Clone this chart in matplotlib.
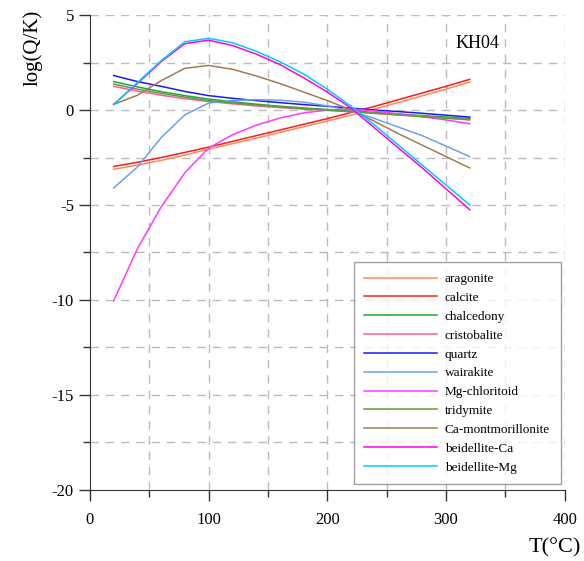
import matplotlib.pyplot as plt

plt.rcParams['font.family'] = ['Liberation Serif', 'DejaVu Serif']
plt.rcParams['axes.unicode_minus'] = False

# temperature steps (°C)
temp = [20, 40, 60, 80, 100, 120, 140, 160, 180, 200, 220, 240, 260, 280, 300, 320]

aragonite = [-3.12, -2.9, -2.65, -2.37, -2.06, -1.77, -1.48, -1.18, -0.88, -0.58, -0.27, 0.06, 0.4, 0.75, 1.1, 1.48]
calcite = [-2.97, -2.75, -2.5, -2.23, -1.95, -1.65, -1.35, -1.05, -0.75, -0.45, -0.13, 0.2, 0.55, 0.9, 1.25, 1.62]
chalcedony = [1.5, 1.22, 0.97, 0.76, 0.58, 0.44, 0.31, 0.2, 0.11, 0.03, -0.05, -0.13, -0.21, -0.29, -0.37, -0.45]
cristobalite = [1.25, 1.0, 0.78, 0.6, 0.45, 0.33, 0.22, 0.13, 0.05, -0.02, -0.09, -0.17, -0.25, -0.33, -0.42, -0.52]
quartz = [1.82, 1.5, 1.25, 0.98, 0.76, 0.62, 0.5, 0.39, 0.29, 0.2, 0.1, 0.0, -0.08, -0.17, -0.27, -0.37]
wairakite = [-4.1, -3.0, -1.45, -0.25, 0.37, 0.5, 0.55, 0.52, 0.42, 0.22, -0.05, -0.45, -0.9, -1.35, -1.9, -2.45]
mg_chloritoid = [-10.05, -7.3, -5.1, -3.3, -2.0, -1.3, -0.8, -0.42, -0.15, 0.0, 0.05, -0.05, -0.2, -0.35, -0.52, -0.72]
tridymite = [1.37, 1.1, 0.88, 0.68, 0.5, 0.38, 0.27, 0.17, 0.08, 0.0, -0.08, -0.17, -0.26, -0.35, -0.43, -0.5]
ca_mont = [0.3, 0.78, 1.55, 2.2, 2.35, 2.15, 1.8, 1.4, 0.95, 0.5, 0.0, -0.6, -1.25, -1.85, -2.45, -3.05]
beid_ca = [0.3, 1.4, 2.55, 3.5, 3.68, 3.4, 2.95, 2.4, 1.7, 0.95, 0.1, -0.95, -2.0, -3.05, -4.15, -5.25]
beid_mg = [0.3, 1.45, 2.6, 3.6, 3.78, 3.55, 3.1, 2.55, 1.9, 1.1, 0.2, -0.8, -1.85, -2.9, -3.95, -5.0]

series = [
    ('aragonite', aragonite, '#ff8a5c'),
    ('calcite', calcite, '#ff1a1a'),
    ('chalcedony', chalcedony, '#1aa83a'),
    ('cristobalite', cristobalite, '#ff5aa0'),
    ('quartz', quartz, '#1a1aee'),
    ('wairakite', wairakite, '#6f9ff5'),
    ('Mg-chloritoid', mg_chloritoid, '#ff3cff'),
    ('tridymite', tridymite, '#5c9e3a'),
    ('Ca-montmorillonite', ca_mont, '#a87a50'),
    ('beidellite-Ca', beid_ca, '#ff00ee'),
    ('beidellite-Mg', beid_mg, '#00ccff'),
]

fig = plt.figure(figsize=(5.84, 5.61), dpi=100)
ax = fig.add_axes([0.154, 0.127, 0.813, 0.846])

for name, vals, col in series:
    ax.plot(temp, vals, color=col, lw=1.1, label=name)

ax.set_xlim(0, 400)
ax.set_ylim(-20, 5)
ax.set_xticks([0, 100, 200, 300, 400])
ax.set_xticks([50, 150, 250, 350], minor=True)
ax.set_yticks([5, 0, -5, -10, -15, -20])
ax.set_yticks([2.5, -2.5, -7.5, -12.5, -17.5], minor=True)
ax.tick_params(axis='both', which='major', length=8, width=1, labelsize=12, color='#333333')
ax.tick_params(axis='both', which='minor', length=5, width=1, color='#333333')
ax.tick_params(axis='x', pad=8)

ax.spines['top'].set_visible(False)
ax.spines['right'].set_visible(False)
ax.spines['left'].set_color('#333333')
ax.spines['bottom'].set_color('#333333')

# dashed grid on every 50 / 2.5 step, plus the outer edges
for gx in range(50, 401, 50):
    ax.axvline(gx, color='#bbbbbb', lw=1, ls=(0, (6, 5)), zorder=0)
for gy in [5, 2.5, 0, -2.5, -5, -7.5, -10, -12.5, -15, -17.5]:
    ax.axhline(gy, color='#bbbbbb', lw=1, ls=(0, (6, 5)), zorder=0)

ax.text(0.77, 0.93, 'KH04', transform=ax.transAxes, fontsize=13)
ax.set_ylabel('log(Q/K)', fontsize=15)
ax.yaxis.set_label_coords(-0.10, 0.93)
fig.text(0.905, 0.015, 'T(°C)', fontsize=16)

leg = ax.legend(loc='lower left', bbox_to_anchor=(0.556, 0.012), fontsize=9.5,
                handlelength=5.5, labelspacing=0.5, frameon=True, fancybox=False,
                borderpad=0.8, handletextpad=0.6, borderaxespad=0)
leg.get_frame().set_edgecolor('#888888')
leg.get_frame().set_linewidth(1)

fig.savefig('out.png', dpi=100)
